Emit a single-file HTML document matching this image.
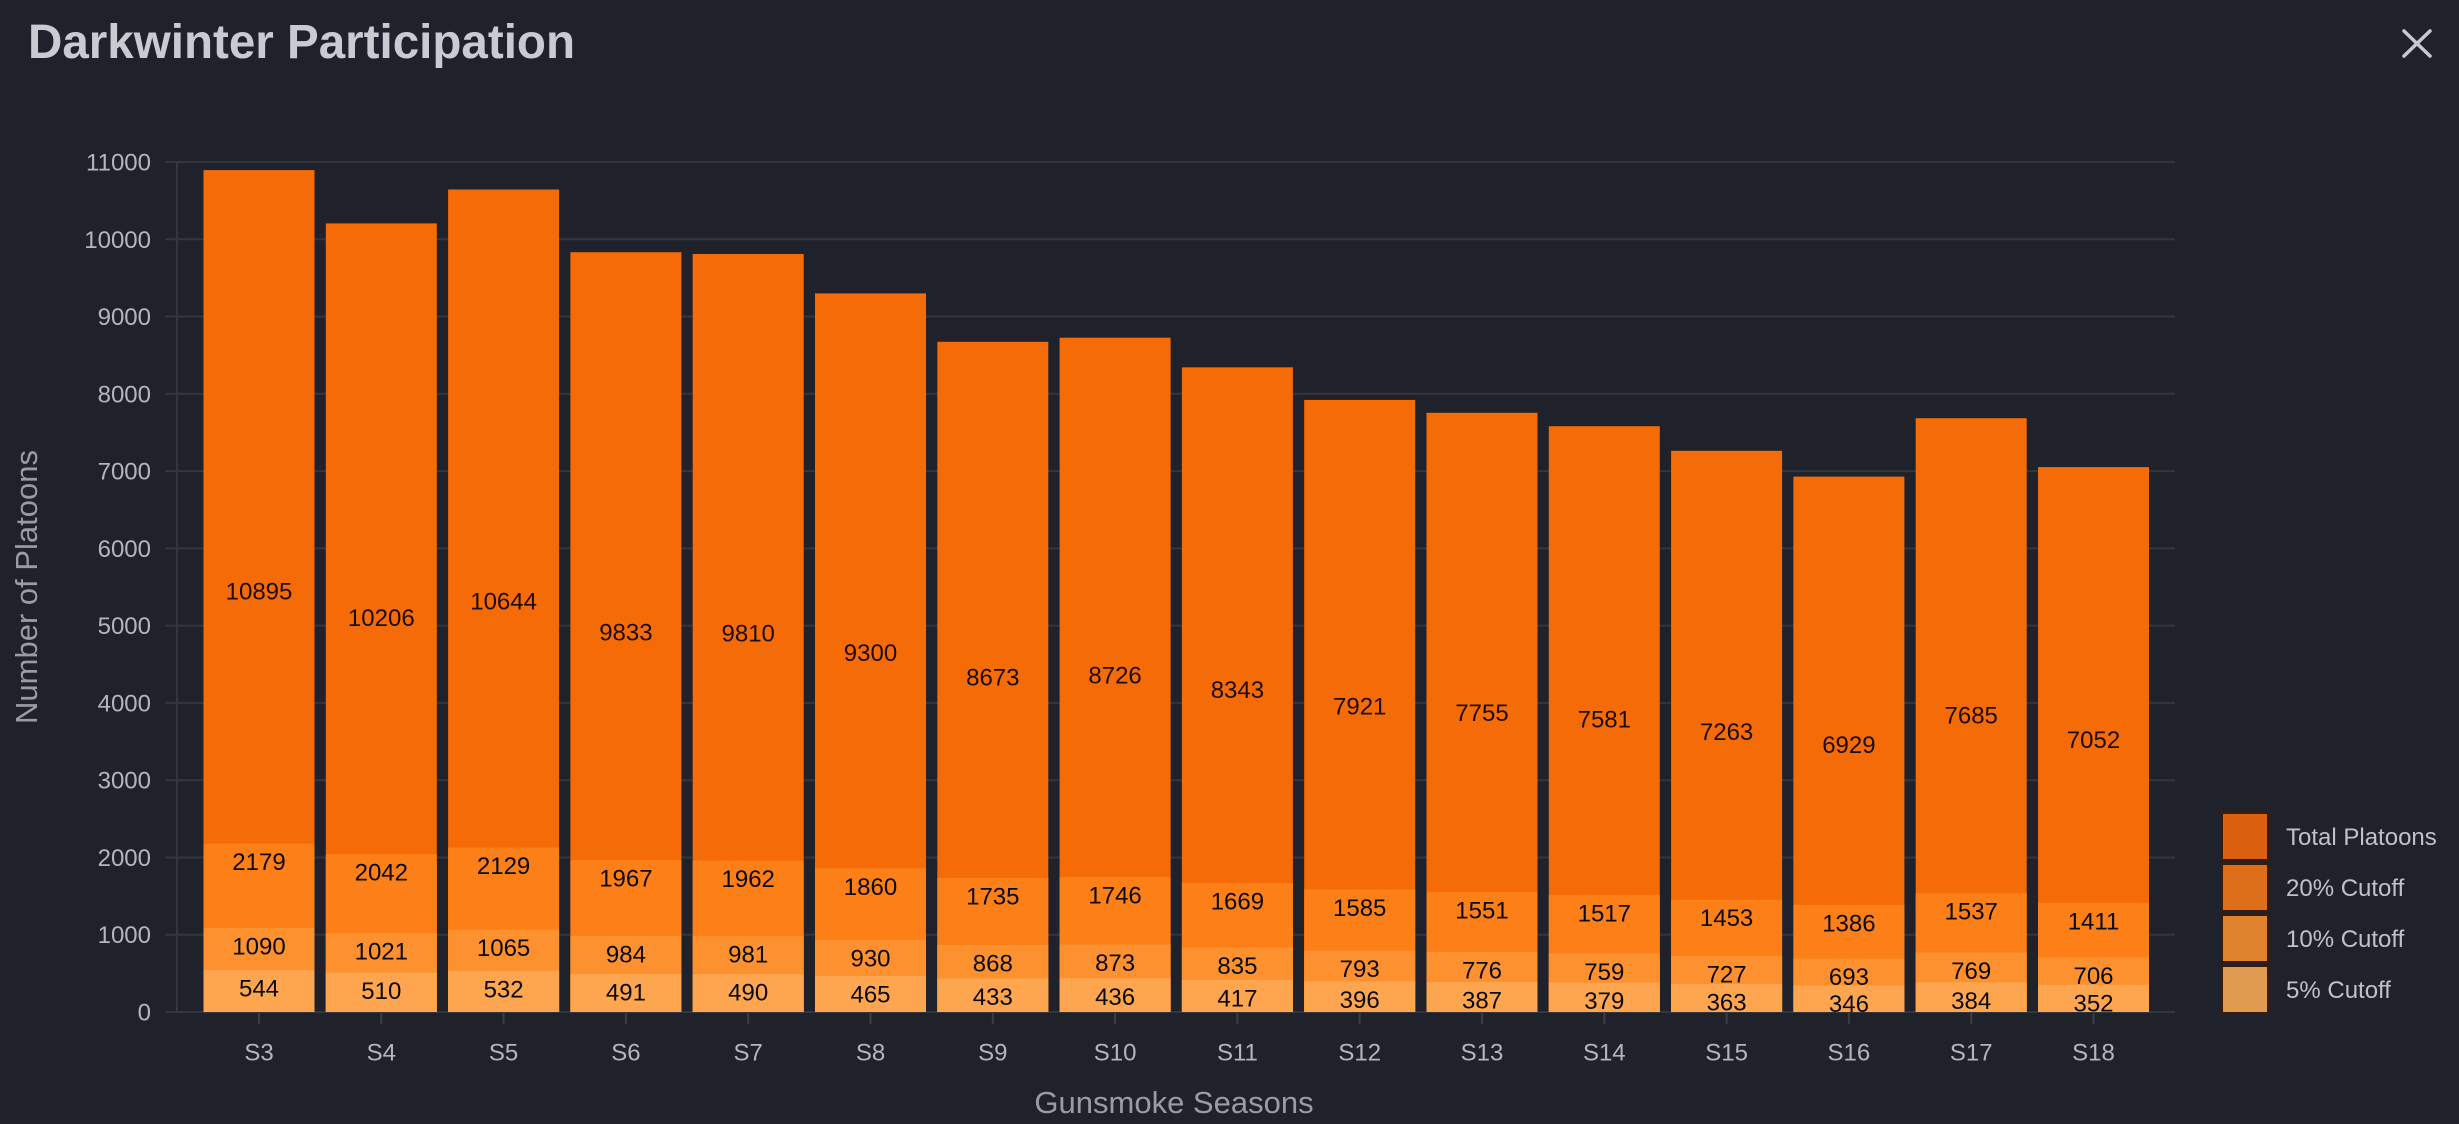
<!DOCTYPE html>
<html>
<head>
<meta charset="utf-8">
<style>
html,body{margin:0;padding:0;background:#1f222a;}
svg{display:block;}
text{font-family:"Liberation Sans",Arial,sans-serif;}
</style>
</head>
<body>
<svg width="2459" height="1124" viewBox="0 0 2459 1124" xmlns="http://www.w3.org/2000/svg">
<rect x="0" y="0" width="2459" height="1124" fill="#1f222a"/>

<!-- Title -->
<text x="28" y="58" font-size="48" font-weight="bold" fill="#c9cbd0" textLength="547" lengthAdjust="spacingAndGlyphs">Darkwinter Participation</text>
<!-- Close X -->
<g stroke="#c8c9cc" stroke-width="3.5" stroke-linecap="round">
<line x1="2404" y1="31" x2="2430" y2="56"/>
<line x1="2430" y1="31" x2="2404" y2="56"/>
</g>

<!-- Gridlines -->
<g stroke="#33363e" stroke-width="2">
<line x1="165" y1="1012" x2="2175" y2="1012"/>
<line x1="165" y1="934.7" x2="2175" y2="934.7"/>
<line x1="165" y1="857.5" x2="2175" y2="857.5"/>
<line x1="165" y1="780.2" x2="2175" y2="780.2"/>
<line x1="165" y1="702.9" x2="2175" y2="702.9"/>
<line x1="165" y1="625.6" x2="2175" y2="625.6"/>
<line x1="165" y1="548.4" x2="2175" y2="548.4"/>
<line x1="165" y1="471.1" x2="2175" y2="471.1"/>
<line x1="165" y1="393.8" x2="2175" y2="393.8"/>
<line x1="165" y1="316.5" x2="2175" y2="316.5"/>
<line x1="165" y1="239.3" x2="2175" y2="239.3"/>
<line x1="165" y1="162" x2="2175" y2="162"/>
<line x1="177" y1="162" x2="177" y2="1012"/>
</g>

<!-- Y tick labels -->
<g font-size="24" fill="#b4b6ba" text-anchor="end">
<text x="151" y="1020.5">0</text>
<text x="151" y="943.2">1000</text>
<text x="151" y="866">2000</text>
<text x="151" y="788.7">3000</text>
<text x="151" y="711.4">4000</text>
<text x="151" y="634.1">5000</text>
<text x="151" y="556.9">6000</text>
<text x="151" y="479.6">7000</text>
<text x="151" y="402.3">8000</text>
<text x="151" y="325">9000</text>
<text x="151" y="247.8">10000</text>
<text x="151" y="170.5">11000</text>
</g>

<!-- Axis titles -->
<text transform="translate(37,587) rotate(-90)" font-size="31" fill="#9a9ca2" text-anchor="middle">Number of Platoons</text>
<text x="1174" y="1113" font-size="31" fill="#9a9ca2" text-anchor="middle">Gunsmoke Seasons</text>

<!-- Bars: Total -->
<g fill="#f56b08">
<rect x="203.5" y="170.1" width="111" height="841.9"/>
<rect x="325.8" y="223.4" width="111" height="788.6"/>
<rect x="448.1" y="189.5" width="111" height="822.5"/>
<rect x="570.4" y="252.2" width="111" height="759.8"/>
<rect x="692.7" y="254.0" width="111" height="758.0"/>
<rect x="815" y="293.4" width="111" height="718.6"/>
<rect x="937.3" y="341.8" width="111" height="670.2"/>
<rect x="1059.6" y="337.7" width="111" height="674.3"/>
<rect x="1181.9" y="367.3" width="111" height="644.7"/>
<rect x="1304.2" y="399.9" width="111" height="612.1"/>
<rect x="1426.5" y="412.8" width="111" height="599.2"/>
<rect x="1548.8" y="426.2" width="111" height="585.8"/>
<rect x="1671.1" y="450.8" width="111" height="561.2"/>
<rect x="1793.4" y="476.6" width="111" height="535.4"/>
<rect x="1915.7" y="418.2" width="111" height="593.8"/>
<rect x="2038" y="467.1" width="111" height="544.9"/>
</g>
<!-- 20% -->
<g fill="#fc7f18">
<rect x="203.5" y="843.6" width="111" height="168.4"/>
<rect x="325.8" y="854.2" width="111" height="157.8"/>
<rect x="448.1" y="847.5" width="111" height="164.5"/>
<rect x="570.4" y="860.0" width="111" height="152.0"/>
<rect x="692.7" y="860.4" width="111" height="151.6"/>
<rect x="815" y="868.3" width="111" height="143.7"/>
<rect x="937.3" y="877.9" width="111" height="134.1"/>
<rect x="1059.6" y="877.1" width="111" height="134.9"/>
<rect x="1181.9" y="883.0" width="111" height="129.0"/>
<rect x="1304.2" y="889.5" width="111" height="122.5"/>
<rect x="1426.5" y="892.1" width="111" height="119.9"/>
<rect x="1548.8" y="894.8" width="111" height="117.2"/>
<rect x="1671.1" y="899.7" width="111" height="112.3"/>
<rect x="1793.4" y="904.9" width="111" height="107.1"/>
<rect x="1915.7" y="893.2" width="111" height="118.8"/>
<rect x="2038" y="903.0" width="111" height="109.0"/>
</g>
<!-- 10% -->
<g fill="#fd9130">
<rect x="203.5" y="927.8" width="111" height="84.2"/>
<rect x="325.8" y="933.1" width="111" height="78.9"/>
<rect x="448.1" y="929.7" width="111" height="82.3"/>
<rect x="570.4" y="936.0" width="111" height="76.0"/>
<rect x="692.7" y="936.2" width="111" height="75.8"/>
<rect x="815" y="940.1" width="111" height="71.9"/>
<rect x="937.3" y="944.9" width="111" height="67.1"/>
<rect x="1059.6" y="944.5" width="111" height="67.5"/>
<rect x="1181.9" y="947.5" width="111" height="64.5"/>
<rect x="1304.2" y="950.7" width="111" height="61.3"/>
<rect x="1426.5" y="952.0" width="111" height="60.0"/>
<rect x="1548.8" y="953.4" width="111" height="58.6"/>
<rect x="1671.1" y="955.8" width="111" height="56.2"/>
<rect x="1793.4" y="958.5" width="111" height="53.5"/>
<rect x="1915.7" y="952.6" width="111" height="59.4"/>
<rect x="2038" y="957.4" width="111" height="54.6"/>
</g>
<!-- 5% -->
<g fill="#fda64f">
<rect x="203.5" y="970.0" width="111" height="42.0"/>
<rect x="325.8" y="972.6" width="111" height="39.4"/>
<rect x="448.1" y="970.9" width="111" height="41.1"/>
<rect x="570.4" y="974.1" width="111" height="37.9"/>
<rect x="692.7" y="974.1" width="111" height="37.9"/>
<rect x="815" y="976.1" width="111" height="35.9"/>
<rect x="937.3" y="978.5" width="111" height="33.5"/>
<rect x="1059.6" y="978.3" width="111" height="33.7"/>
<rect x="1181.9" y="979.8" width="111" height="32.2"/>
<rect x="1304.2" y="981.4" width="111" height="30.6"/>
<rect x="1426.5" y="982.1" width="111" height="29.9"/>
<rect x="1548.8" y="982.7" width="111" height="29.3"/>
<rect x="1671.1" y="984.0" width="111" height="28.0"/>
<rect x="1793.4" y="985.3" width="111" height="26.7"/>
<rect x="1915.7" y="982.3" width="111" height="29.7"/>
<rect x="2038" y="984.8" width="111" height="27.2"/>
</g>

<!-- X ticks -->
<g stroke="#3a3d45" stroke-width="2">
<line x1="259" y1="1013" x2="259" y2="1024"/>
<line x1="381.3" y1="1013" x2="381.3" y2="1024"/>
<line x1="503.6" y1="1013" x2="503.6" y2="1024"/>
<line x1="625.9" y1="1013" x2="625.9" y2="1024"/>
<line x1="748.2" y1="1013" x2="748.2" y2="1024"/>
<line x1="870.5" y1="1013" x2="870.5" y2="1024"/>
<line x1="992.8" y1="1013" x2="992.8" y2="1024"/>
<line x1="1115.1" y1="1013" x2="1115.1" y2="1024"/>
<line x1="1237.4" y1="1013" x2="1237.4" y2="1024"/>
<line x1="1359.7" y1="1013" x2="1359.7" y2="1024"/>
<line x1="1482" y1="1013" x2="1482" y2="1024"/>
<line x1="1604.3" y1="1013" x2="1604.3" y2="1024"/>
<line x1="1726.6" y1="1013" x2="1726.6" y2="1024"/>
<line x1="1848.9" y1="1013" x2="1848.9" y2="1024"/>
<line x1="1971.2" y1="1013" x2="1971.2" y2="1024"/>
<line x1="2093.5" y1="1013" x2="2093.5" y2="1024"/>
</g>

<!-- X tick labels -->
<g font-size="24" fill="#b4b6ba" text-anchor="middle">
<text x="259" y="1060.5">S3</text>
<text x="381.3" y="1060.5">S4</text>
<text x="503.6" y="1060.5">S5</text>
<text x="625.9" y="1060.5">S6</text>
<text x="748.2" y="1060.5">S7</text>
<text x="870.5" y="1060.5">S8</text>
<text x="992.8" y="1060.5">S9</text>
<text x="1115.1" y="1060.5">S10</text>
<text x="1237.4" y="1060.5">S11</text>
<text x="1359.7" y="1060.5">S12</text>
<text x="1482" y="1060.5">S13</text>
<text x="1604.3" y="1060.5">S14</text>
<text x="1726.6" y="1060.5">S15</text>
<text x="1848.9" y="1060.5">S16</text>
<text x="1971.2" y="1060.5">S17</text>
<text x="2093.5" y="1060.5">S18</text>
</g>

<!-- Total labels -->
<g font-size="24" fill="#1e0c02" text-anchor="middle">
<text x="259" y="599.6">10895</text>
<text x="381.3" y="626.2">10206</text>
<text x="503.6" y="609.3">10644</text>
<text x="625.9" y="640.6">9833</text>
<text x="748.2" y="641.5">9810</text>
<text x="870.5" y="661.2">9300</text>
<text x="992.8" y="685.4">8673</text>
<text x="1115.1" y="683.4">8726</text>
<text x="1237.4" y="698.2">8343</text>
<text x="1359.7" y="714.5">7921</text>
<text x="1482" y="720.9">7755</text>
<text x="1604.3" y="727.6">7581</text>
<text x="1726.6" y="739.9">7263</text>
<text x="1848.9" y="752.8">6929</text>
<text x="1971.2" y="723.6">7685</text>
<text x="2093.5" y="748.0">7052</text>
</g>

<!-- Segment labels -->
<g font-size="24" fill="#0a0a0a" text-anchor="middle">
<text x="259" y="870">2179</text>
<text x="259" y="954.3">1090</text>
<text x="259" y="996.5">544</text>
<text x="381.3" y="880.7">2042</text>
<text x="381.3" y="959.6">1021</text>
<text x="381.3" y="999.1">510</text>
<text x="503.6" y="874.0">2129</text>
<text x="503.6" y="956.2">1065</text>
<text x="503.6" y="997.4">532</text>
<text x="625.9" y="886.5">1967</text>
<text x="625.9" y="962.5">984</text>
<text x="625.9" y="1000.6">491</text>
<text x="748.2" y="886.9">1962</text>
<text x="748.2" y="962.7">981</text>
<text x="748.2" y="1000.6">490</text>
<text x="870.5" y="894.8">1860</text>
<text x="870.5" y="966.6">930</text>
<text x="870.5" y="1002.6">465</text>
<text x="992.8" y="904.4">1735</text>
<text x="992.8" y="971.4">868</text>
<text x="992.8" y="1005.0">433</text>
<text x="1115.1" y="903.6">1746</text>
<text x="1115.1" y="971.0">873</text>
<text x="1115.1" y="1004.8">436</text>
<text x="1237.4" y="909.5">1669</text>
<text x="1237.4" y="974.0">835</text>
<text x="1237.4" y="1006.3">417</text>
<text x="1359.7" y="916.0">1585</text>
<text x="1359.7" y="977.2">793</text>
<text x="1359.7" y="1007.9">396</text>
<text x="1482" y="918.6">1551</text>
<text x="1482" y="978.5">776</text>
<text x="1482" y="1008.6">387</text>
<text x="1604.3" y="921.3">1517</text>
<text x="1604.3" y="979.9">759</text>
<text x="1604.3" y="1009.2">379</text>
<text x="1726.6" y="926.2">1453</text>
<text x="1726.6" y="982.3">727</text>
<text x="1726.6" y="1010.5">363</text>
<text x="1848.9" y="931.4">1386</text>
<text x="1848.9" y="985.0">693</text>
<text x="1848.9" y="1011.8">346</text>
<text x="1971.2" y="919.7">1537</text>
<text x="1971.2" y="979.1">769</text>
<text x="1971.2" y="1008.8">384</text>
<text x="2093.5" y="929.5">1411</text>
<text x="2093.5" y="983.9">706</text>
<text x="2093.5" y="1011.3">352</text>
</g>

<!-- Legend -->
<g stroke="#3a1c06" stroke-width="2">
<rect x="2222" y="813" width="46" height="47" fill="#d9600f"/>
<rect x="2222" y="864" width="46" height="47" fill="#de6f1a"/>
<rect x="2222" y="915" width="46" height="47" fill="#e0832e"/>
<rect x="2222" y="966" width="46" height="47" fill="#e09a50"/>
</g>
<g font-size="24" fill="#c0c2c6">
<text x="2286" y="845">Total Platoons</text>
<text x="2286" y="896">20% Cutoff</text>
<text x="2286" y="947">10% Cutoff</text>
<text x="2286" y="998">5% Cutoff</text>
</g>
</svg>
</body>
</html>
